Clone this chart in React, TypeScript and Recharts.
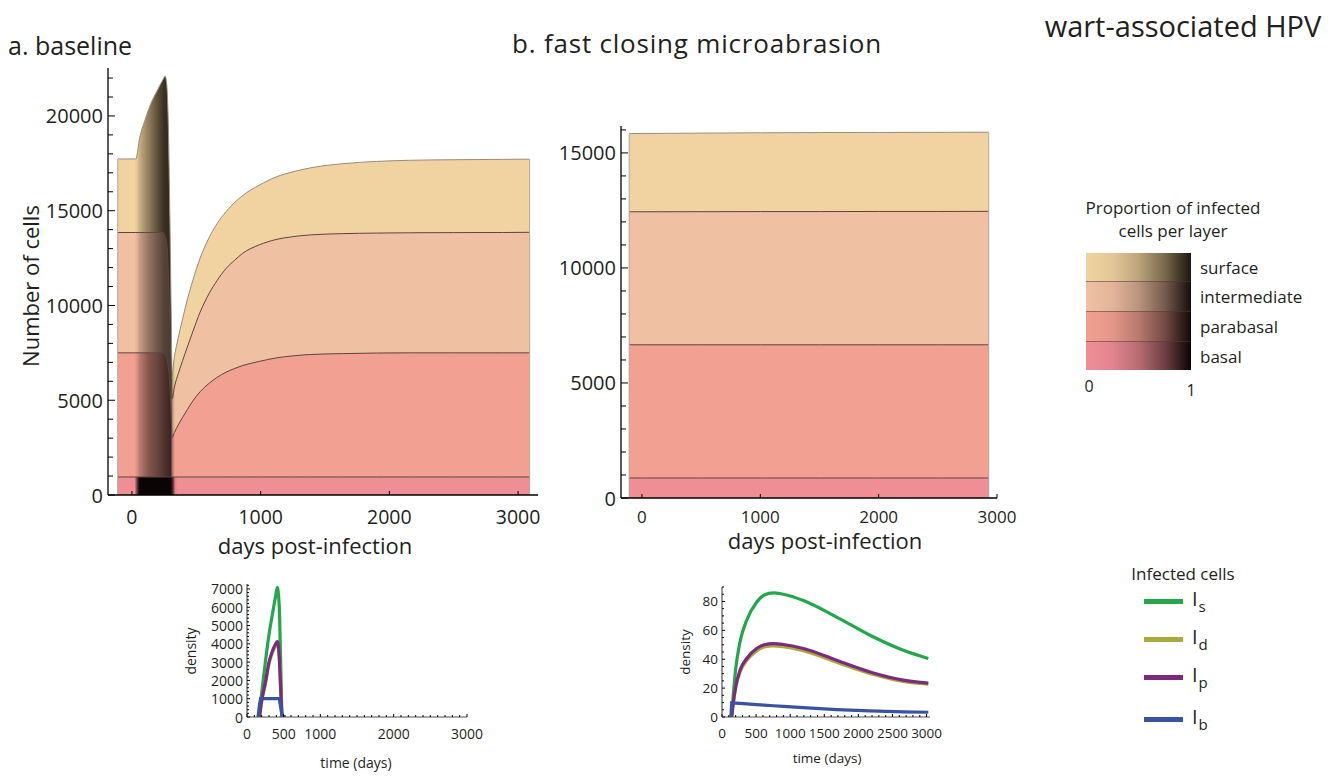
import React from 'react';
import { AreaChart, Area, LineChart, Line, XAxis, YAxis, ReferenceLine } from 'recharts';

const FONT = '"Open Sans", "Noto Sans", sans-serif';
const INK = '#231f20';

// a. baseline: upper edge of each epithelial layer (cells)
const daysA = [-110, 0, 30, 60, 100, 130, 160, 190, 220, 240, 258, 270, 282, 295, 304, 312, 330, 360, 394, 430, 472, 530, 601, 660, 731, 800, 860, 990, 1119, 1250, 1378, 1637, 1900, 2155, 2500, 2880, 3090];
const surfaceA = [17730, 17730, 17730, 18850, 19750, 20350, 20850, 21250, 21650, 21900, 22100, 21700, 19700, 14500, 10000, 6470, 7300, 8300, 9300, 10300, 11300, 12500, 13600, 14300, 14950, 15450, 15800, 16350, 16780, 17050, 17250, 17480, 17600, 17660, 17690, 17710, 17720];
const intermediateA = [13850, 13850, 13850, 13850, 13850, 13850, 13850, 13850, 13850, 13850, 13650, 13300, 12000, 8800, 6700, 5060, 5700, 6400, 7100, 7800, 8600, 9650, 10650, 11300, 11950, 12400, 12750, 13200, 13480, 13630, 13720, 13790, 13820, 13835, 13845, 13850, 13860];
const parabasalA = [7500, 7500, 7500, 7500, 7500, 7500, 7500, 7500, 7500, 7500, 7400, 7200, 6800, 5750, 4300, 3040, 3300, 3700, 4100, 4500, 4950, 5450, 5900, 6200, 6480, 6680, 6830, 7050, 7230, 7340, 7410, 7460, 7490, 7500, 7500, 7500, 7500];
const basalA = [950, 950, 950, 950, 950, 950, 950, 950, 950, 950, 950, 950, 950, 950, 950, 950, 950, 950, 950, 950, 950, 950, 950, 950, 950, 950, 950, 950, 950, 950, 950, 950, 950, 950, 950, 950, 950];

// proportion of infected cells per layer (drives the shading)
const infDays = [-110, 20, 45, 60, 130, 200, 250, 300, 318, 335, 355, 3090];
const infSurface = [0, 0, 0.3, 0.45, 0.68, 0.84, 0.93, 0.95, 0.5, 0, 0, 0];
const infIntermediate = [0, 0, 0.3, 0.45, 0.65, 0.77, 0.84, 0.87, 0.45, 0, 0, 0];
const infParabasal = [0, 0, 0.35, 0.5, 0.7, 0.78, 0.85, 0.9, 0.45, 0, 0, 0];
const infBasal = [0, 0, 0.85, 1, 1, 1, 1, 1, 0.85, 0.3, 0, 0];

// b. fast closing microabrasion
const daysB = [-108, 0, 500, 1000, 1500, 2000, 2500, 2930];
const surfaceB = [15840, 15845, 15860, 15875, 15885, 15890, 15895, 15900];
const intermediateB = [12440, 12440, 12445, 12450, 12450, 12455, 12455, 12460];
const parabasalB = [6660, 6660, 6660, 6660, 6660, 6660, 6660, 6660];
const basalB = [870, 870, 870, 870, 870, 870, 870, 870];

// infected cell densities
const timeA = [150, 160, 170, 185, 200, 250, 300, 350, 390, 414, 440, 460, 480, 530];
const isA = [0, 0, 350, 800, 1300, 3000, 4500, 5700, 6600, 7090, 6000, 2800, 0, 0];
const idA = [0, 0, 0, 450, 850, 1800, 2900, 3550, 3900, 4030, 3200, 1450, 0, 0];
const ipA = [0, 0, 0, 480, 900, 1880, 3000, 3650, 3990, 4120, 3300, 1500, 0, 0];
const ibA = [0, 300, 650, 1000, 1000, 1000, 1000, 1000, 1000, 1000, 1000, 500, 0, 0];

const timeB = [130, 142, 160, 200, 264, 362, 508, 620, 753, 900, 1193, 1681, 2170, 2659, 3025];
const isB = [0, 0, 12, 33, 52, 67, 79.5, 84.5, 86, 85, 80.7, 69.2, 56.6, 46.2, 40.5];
const idB = [0, 0, 7.5, 20, 31, 39, 45.8, 48.5, 49.3, 48.7, 45.9, 37.9, 30.1, 24.6, 22.7];
const ipB = [0, 0, 8, 21, 32.4, 40.5, 47.4, 50, 50.8, 50.2, 47.4, 39.3, 31.2, 25.5, 23.5];
const ibB = [0, 9.8, 9.7, 9.6, 9.4, 9.1, 8.6, 8.2, 7.8, 7.4, 6.5, 5.1, 4.2, 3.6, 3.3];

const layerNames = ['surface', 'intermediate', 'parabasal', 'basal'];
const layerBase = ['#F1D3A1', '#F0C0A3', '#F1A091', '#F08E96'];
const layerDark = ['#1C160C', '#160E0C', '#120808', '#0A0404'];
const infByLayer = [infSurface, infIntermediate, infParabasal, infBasal];

const seriesNames = ['Is', 'Id', 'Ip', 'Ib'];
const seriesColors = ['#22A84A', '#AAAA3A', '#7B2A7E', '#3A52A3'];

const rowsA = daysA.map((day, i) => ({ day, surface: surfaceA[i], intermediate: intermediateA[i], parabasal: parabasalA[i], basal: basalA[i] }));
const rowsB = daysB.map((day, i) => ({ day, surface: surfaceB[i], intermediate: intermediateB[i], parabasal: parabasalB[i], basal: basalB[i] }));
const linesA = timeA.map((t, i) => ({ t, Is: isA[i], Id: idA[i], Ip: ipA[i], Ib: ibA[i] }));
const linesB = timeB.map((t, i) => ({ t, Is: isB[i], Id: idB[i], Ip: ipB[i], Ib: ibB[i] }));

const range = (a: number, b: number, s: number) => {
  const out: number[] = [];
  for (let v = a; v <= b + 1e-9; v += s) out.push(v);
  return out;
};

const rgb = (h: string) => [1, 3, 5].map((i) => parseInt(h.slice(i, i + 2), 16));
const shade = (base: string, dark: string, p: number) => {
  const k = p * p;
  const a = rgb(base);
  const b = rgb(dark);
  return `rgb(${a.map((v, i) => Math.round(v * (1 - k) + b[i] * k)).join(',')})`;
};

function makeYTick(labels: number[], majorLen: number, minorLen: number, fontSize: number, gap: number) {
  return (props: any) => {
    const { x, y, payload } = props;
    const major = labels.includes(payload.value);
    return (
      <g>
        <line x1={x} x2={x + (major ? majorLen : minorLen)} y1={y} y2={y} stroke="#000" strokeWidth={1} />
        {major && (
          <text x={x - gap} y={y} textAnchor="end" dominantBaseline="central" fontSize={fontSize} fontFamily={FONT} fill={INK}>
            {payload.value}
          </text>
        )}
      </g>
    );
  };
}

function makeXTick(labels: number[], majorLen: number, minorLen: number, fontSize: number, gap: number) {
  return (props: any) => {
    const { x, y, payload } = props;
    const major = labels.includes(payload.value);
    return (
      <g>
        <line x1={x} x2={x} y1={y} y2={y - (major ? majorLen : minorLen)} stroke="#000" strokeWidth={1} />
        {major && (
          <text x={x} y={y + gap} textAnchor="middle" dominantBaseline="central" fontSize={fontSize} fontFamily={FONT} fill={INK}>
            {payload.value}
          </text>
        )}
      </g>
    );
  };
}

// place a chart so that its plot area lands on the given rectangle
const YW = 70;
const XH = 40;
const PAD_R = 40;
function frame(l: number, t: number, r: number, b: number) {
  const left = l - YW - 10;
  const top = t - 10;
  return {
    style: { position: 'absolute' as const, left, top },
    width: r - left + PAD_R,
    height: b + XH + 10 - top,
    margin: { top: 10, left: 10, right: PAD_R, bottom: 10 },
  };
}

function Txt({ x, y, size, children, anchor = 'middle', rotate = 0, spacing = 0 }: any) {
  const tx = anchor === 'middle' ? '-50%' : anchor === 'end' ? '-100%' : '0';
  return (
    <div
      style={{
        position: 'absolute',
        left: x,
        top: y,
        transform: `translate(${tx}, -50%) rotate(${rotate}deg)`,
        fontSize: size,
        fontFamily: FONT,
        color: INK,
        whiteSpace: 'nowrap',
        lineHeight: 1,
        letterSpacing: spacing,
      }}
    >
      {children}
    </div>
  );
}

function LayerChart({ id, rows, plot, xDomain, yDomain, yTicks, yLabels, xTicks, xFont, xGap, shaded }: any) {
  const f = frame(plot[0], plot[1], plot[2], plot[3]);
  const first = rows[0];
  const last = rows[rows.length - 1];
  const d0 = first.day;
  const d1 = last.day;
  return (
    <div style={f.style}>
      <AreaChart width={f.width} height={f.height} data={rows} margin={f.margin}>
        <defs>
          {layerNames.map((name, li) => (
            <linearGradient key={name} id={`${id}-${name}`} x1="0" y1="0" x2="1" y2="0">
              {shaded ? (
                infDays.map((d, k) => (
                  <stop key={k} offset={Math.min(1, Math.max(0, (d - d0) / (d1 - d0)))} stopColor={shade(layerBase[li], layerDark[li], infByLayer[li][k])} />
                ))
              ) : (
                <stop offset={0} stopColor={layerBase[li]} />
              )}
            </linearGradient>
          ))}
        </defs>
        <XAxis
          dataKey="day"
          type="number"
          domain={xDomain}
          allowDataOverflow
          ticks={xTicks}
          interval={0}
          height={XH}
          tickSize={0}
          tickMargin={0}
          tickLine={false}
          axisLine={{ stroke: '#000', strokeWidth: 1.3 }}
          tick={makeXTick(xTicks, 4, 4, xFont, xGap)}
        />
        <YAxis
          type="number"
          domain={yDomain}
          allowDataOverflow
          ticks={yTicks}
          interval={0}
          width={YW}
          tickSize={0}
          tickMargin={0}
          tickLine={false}
          axisLine={{ stroke: '#000', strokeWidth: 1.3 }}
          tick={makeYTick(yLabels, 7, 5, 20, 5)}
        />
        {layerNames.map((name, li) => (
          <Area
            key={name}
            type="monotone"
            dataKey={name}
            fill={`url(#${id}-${name})`}
            fillOpacity={1}
            stroke={li === 0 ? '#9a8a80' : '#5a4640'}
            strokeWidth={1}
            dot={false}
            activeDot={false}
            isAnimationActive={false}
          />
        ))}
        <ReferenceLine segment={[{ x: d0, y: 0 }, { x: d0, y: first.surface }]} stroke="#b0a8a0" strokeWidth={1} />
        <ReferenceLine segment={[{ x: d1, y: 0 }, { x: d1, y: last.surface }]} stroke="#b0a8a0" strokeWidth={1} />
      </AreaChart>
    </div>
  );
}

function DensityChart({ rows, plot, xDomain, yDomain, xTicks, xLabels, yTicks, yLabels, fontSize }: any) {
  const f = frame(plot[0], plot[1], plot[2], plot[3]);
  return (
    <div style={f.style}>
      <LineChart width={f.width} height={f.height} data={rows} margin={f.margin}>
        <XAxis
          dataKey="t"
          type="number"
          domain={xDomain}
          allowDataOverflow
          ticks={xTicks}
          interval={0}
          height={XH}
          tickSize={0}
          tickMargin={0}
          tickLine={false}
          axisLine={{ stroke: '#555', strokeWidth: 1.2 }}
          tick={makeXTick(xLabels, 3, 2, fontSize, 16)}
        />
        <YAxis
          type="number"
          domain={yDomain}
          allowDataOverflow
          ticks={yTicks}
          interval={0}
          width={YW}
          tickSize={0}
          tickMargin={0}
          tickLine={false}
          axisLine={{ stroke: '#555', strokeWidth: 1.2 }}
          tick={makeYTick(yLabels, 3, 2, fontSize, 4)}
        />
        {seriesNames.map((name, i) => (
          <Line
            key={name}
            type={name === 'Ib' ? 'linear' : 'monotone'}
            dataKey={name}
            stroke={seriesColors[i]}
            strokeWidth={3.2}
            dot={false}
            activeDot={false}
            isAnimationActive={false}
          />
        ))}
      </LineChart>
    </div>
  );
}

const legendRows = [253, 281, 311, 341, 370];
const legendLineY = [601, 639, 677, 719];
const subs = ['s', 'd', 'p', 'b'];

export default function App() {
  return (
    <div style={{ position: 'absolute', left: 0, top: 0, width: 1342, height: 776, background: '#fff', overflow: 'hidden' }}>
      <Txt x={8} y={45} size={25} anchor="start">a. baseline</Txt>
      <Txt x={512} y={43} size={26} anchor="start" spacing={0.8}>b. fast closing microabrasion</Txt>
      <Txt x={1183} y={25} size={29} anchor="middle">wart-associated HPV</Txt>

      <LayerChart
        id="ga"
        rows={rowsA}
        plot={[108, 68, 538, 495]}
        xDomain={[-186, 3155]}
        yDomain={[0, 22530]}
        yTicks={range(0, 22000, 1000)}
        yLabels={[0, 5000, 10000, 15000, 20000]}
        xTicks={[0, 1000, 2000, 3000]}
        xFont={19.5}
        xGap={21}
        shaded
      />
      <Txt x={30} y={286} size={22} rotate={-90}>Number of cells</Txt>
      <Txt x={315} y={545} size={22}>days post-infection</Txt>

      <LayerChart
        id="gb"
        rows={rowsB}
        plot={[621, 126, 997, 498]}
        xDomain={[-177, 3000]}
        yDomain={[0, 16170]}
        yTicks={range(0, 16000, 1000)}
        yLabels={[0, 5000, 10000, 15000]}
        xTicks={[0, 1000, 2000, 3000]}
        xFont={17}
        xGap={18}
        shaded={false}
      />
      <Txt x={825} y={540} size={22}>days post-infection</Txt>

      <DensityChart
        rows={linesA}
        plot={[247, 584, 467, 717]}
        xDomain={[0, 3000]}
        yDomain={[0, 7270]}
        xTicks={range(0, 3000, 100)}
        xLabels={[0, 500, 1000, 2000, 3000]}
        yTicks={range(0, 7200, 200)}
        yLabels={[0, 1000, 2000, 3000, 4000, 5000, 6000, 7000]}
        fontSize={14}
      />
      <Txt x={191} y={651} size={14} rotate={-90}>density</Txt>
      <Txt x={356} y={763} size={14}>time (days)</Txt>

      <DensityChart
        rows={linesB}
        plot={[722, 587, 930, 717]}
        xDomain={[0, 3050]}
        yDomain={[0, 90]}
        xTicks={range(0, 3000, 100)}
        xLabels={[0, 500, 1000, 1500, 2000, 2500, 3000]}
        yTicks={range(0, 90, 5)}
        yLabels={[0, 20, 40, 60, 80]}
        fontSize={13.5}
      />
      <Txt x={686} y={652} size={13.5} rotate={-90}>density</Txt>
      <Txt x={827} y={759} size={13.5}>time (days)</Txt>

      {/* proportion legend */}
      <Txt x={1173} y={207} size={17}>Proportion of infected</Txt>
      <Txt x={1173} y={230} size={17}>cells per layer</Txt>
      {layerNames.map((name, li) => (
        <div
          key={name}
          style={{
            position: 'absolute',
            left: 1086,
            top: legendRows[li],
            width: 105,
            height: legendRows[li + 1] - legendRows[li],
            boxSizing: 'border-box',
            borderTop: li > 0 ? '1px solid rgba(90,60,50,0.55)' : 'none',
            background: `linear-gradient(to right, ${[0, 0.25, 0.5, 0.75, 1]
              .map((u) => `${shade(layerBase[li], layerDark[li], u)} ${u * 100}%`)
              .join(', ')})`,
          }}
        />
      ))}
      {layerNames.map((name, li) => (
        <Txt key={name} x={1200} y={(legendRows[li] + legendRows[li + 1]) / 2} size={17} anchor="start">
          {name}
        </Txt>
      ))}
      <Txt x={1089} y={386} size={16}>0</Txt>
      <Txt x={1191} y={390} size={16}>1</Txt>

      {/* infected cells legend */}
      <Txt x={1183} y={573} size={17}>Infected cells</Txt>
      {seriesNames.map((name, i) => (
        <React.Fragment key={name}>
          <div style={{ position: 'absolute', left: 1144, top: legendLineY[i] - 2.5, width: 39, height: 5, background: seriesColors[i] }} />
          <div style={{ position: 'absolute', left: 1192, top: legendLineY[i] - 12, fontSize: 20, fontFamily: FONT, color: INK, lineHeight: 1 }}>
            I<span style={{ fontSize: 15, position: 'relative', top: 6, marginLeft: 1 }}>{subs[i]}</span>
          </div>
        </React.Fragment>
      ))}
    </div>
  );
}
